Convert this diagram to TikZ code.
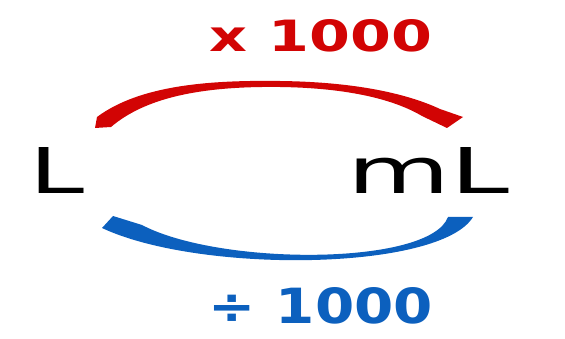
\documentclass[tikz,border=0pt]{standalone}
\usepackage{fontspec}
\setmainfont{DejaVu Sans}
\definecolor{mulred}{RGB}{210,4,4}
\definecolor{divblue}{RGB}{12,96,190}
\begin{document}
\begin{tikzpicture}[x=1pt, y=-1pt,
		unit/.style={inner sep=0pt, text=black},
		factor/.style={inner sep=0pt, font=\bfseries}]
	\useasboundingbox (0,0) rectangle (565,339);
	\node[unit] (litre) at (57,170) {\resizebox{55pt}{46pt}{L}};
	\node[unit] (millilitre) at (428,170) {\resizebox{162pt}{46pt}{mL}};
	\node[factor, text=mulred] (times) at (321,36) {\resizebox{222pt}{32pt}{x 1000}};
	\node[factor, text=divblue] (divide) at (321,306) {\resizebox{224pt}{36pt}{÷ 1000}};
	% red arc, L to mL
	\fill[mulred] (97,117) .. controls (140,85) and (210,80) .. (280,81)
		.. controls (360,82) and (410,95) .. (440,109)
		-- (463,117) -- (447,128) -- (422,116)
		.. controls (395,100) and (350,88) .. (280,87)
		.. controls (200,86) and (145,98) .. (111,127) -- (95,128) -- cycle;
	% blue arc, mL back to L
	\fill[divblue] (448,217) -- (473,217) .. controls (440,271) and (200,274) .. (102,228)
		-- (113,216) -- (142,225) .. controls (220,266) and (430,266) .. (448,217) -- cycle;
\end{tikzpicture}
\end{document}
